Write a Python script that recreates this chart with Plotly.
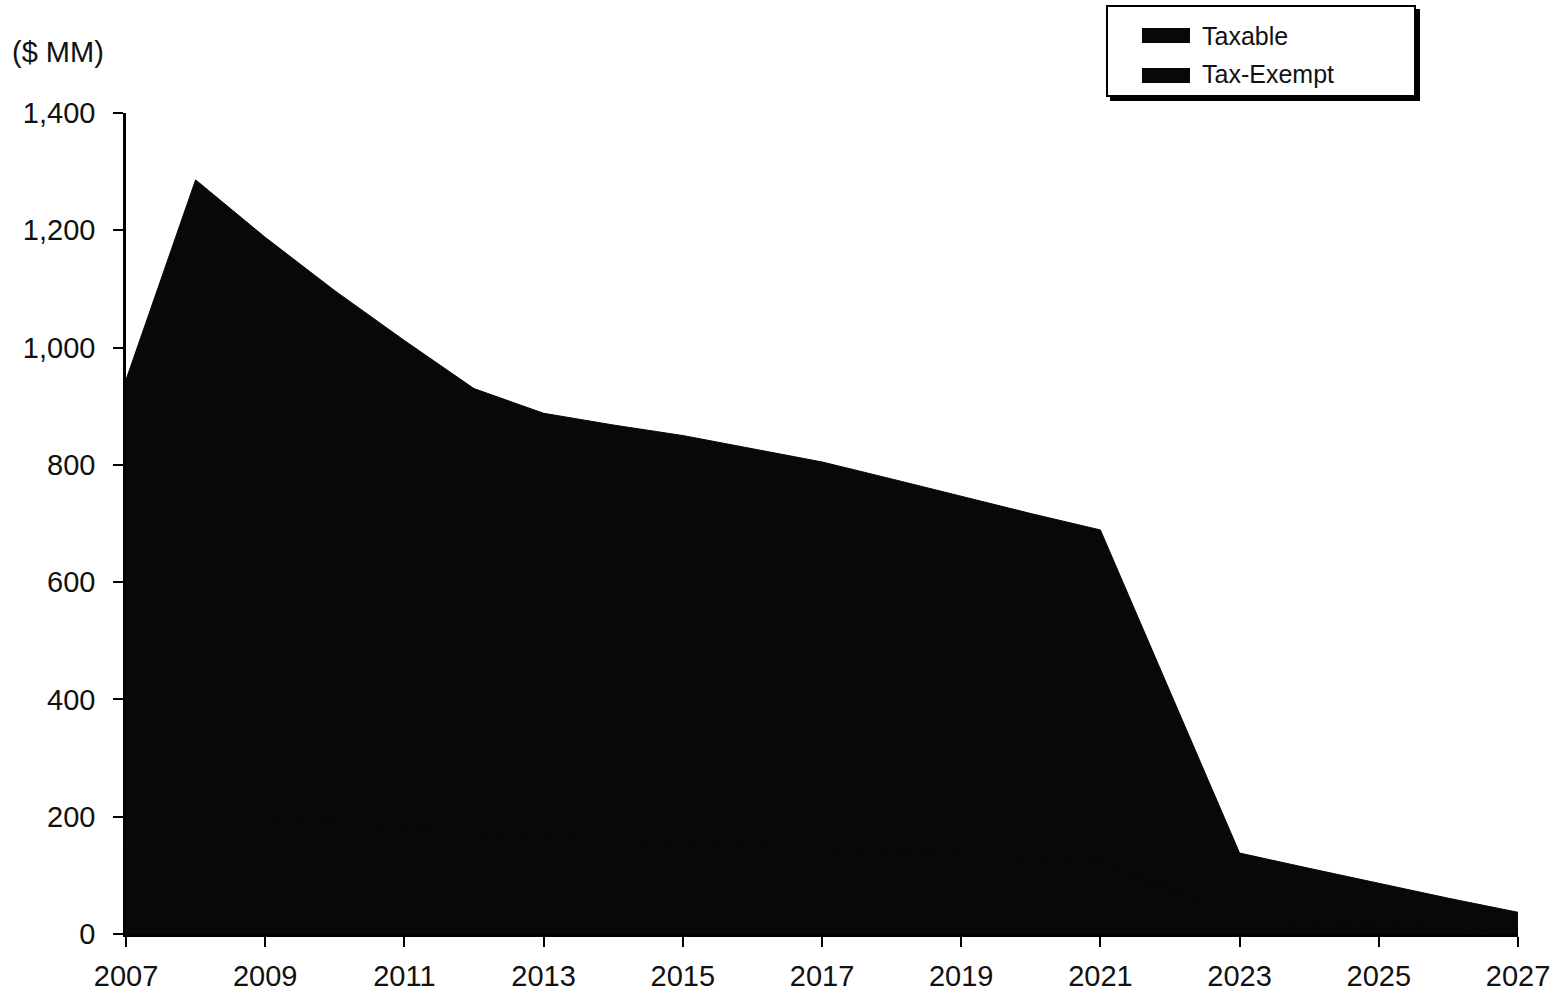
import plotly.graph_objects as go

years = list(range(2007, 2028))
tax_exempt = [160, 215, 200, 190, 180, 170, 165, 160, 155, 150, 145,
              140, 135, 130, 125, 75, 25, 20, 15, 11, 7]
taxable = [785, 1071, 988, 907, 832, 760, 723, 708, 695, 678, 660,
           636, 611, 587, 564, 338, 113, 92, 71, 50, 30]
series_names = ["Taxable", "Tax-Exempt"]
x_ticks = list(range(2007, 2028, 2))
y_ticks = [0, 200, 400, 600, 800, 1000, 1200, 1400]

FONT = "Liberation Sans, Arial, sans-serif"
INK = "#111111"
FILL = "#080808"

W, H = 1561, 994
ML, MR, MT, MB = 126, 43, 113, 60
PW, PH = W - ML - MR, H - MT - MB


def px(x):
    return (x - ML) / PW


def py(y):
    return (H - MB - y) / PH


fig = go.Figure()
fig.add_trace(go.Scatter(
    x=years, y=tax_exempt, name=series_names[1], stackgroup="one",
    mode="lines", line=dict(width=1.5, color=FILL),
    fillcolor=FILL, showlegend=False))
fig.add_trace(go.Scatter(
    x=years, y=taxable, name=series_names[0], stackgroup="one",
    mode="lines", line=dict(width=1, color=FILL),
    fillcolor=FILL, showlegend=False))

shapes = [
    # legend shadow
    dict(type="rect", xref="paper", yref="paper",
         x0=px(1110), x1=px(1420), y0=py(101), y1=py(9),
         fillcolor="black", line=dict(width=0)),
    # legend box
    dict(type="rect", xref="paper", yref="paper",
         x0=px(1107), x1=px(1415), y0=py(96), y1=py(6),
         fillcolor="white", line=dict(width=2, color="black")),
    # swatches
    dict(type="rect", xref="paper", yref="paper",
         x0=px(1142), x1=px(1190), y0=py(43), y1=py(28),
         fillcolor=FILL, line=dict(width=0)),
    dict(type="rect", xref="paper", yref="paper",
         x0=px(1142), x1=px(1190), y0=py(83), y1=py(68),
         fillcolor=FILL, line=dict(width=0)),
]

annotations = [
    dict(text="($ MM)", xref="paper", yref="paper",
         x=px(10), y=py(52), xanchor="left", yanchor="middle",
         showarrow=False, font=dict(size=29, family=FONT, color=INK)),
    dict(text=series_names[0], xref="paper", yref="paper",
         x=px(1200), y=py(36), xanchor="left", yanchor="middle",
         showarrow=False, font=dict(size=25, family=FONT, color=INK)),
    dict(text=series_names[1], xref="paper", yref="paper",
         x=px(1200), y=py(74), xanchor="left", yanchor="middle",
         showarrow=False, font=dict(size=25, family=FONT, color=INK)),
]

fig.update_layout(
    width=W, height=H,
    margin=dict(l=ML, r=MR, t=MT, b=MB, autoexpand=False),
    paper_bgcolor="white", plot_bgcolor="white",
    font=dict(family=FONT, color=INK, size=26),
    showlegend=False,
    xaxis=dict(
        range=[2007, 2027], tickvals=x_ticks, ticktext=[str(v) for v in x_ticks],
        showgrid=False, zeroline=False, showline=True, linecolor="black",
        linewidth=2.5, ticks="outside", ticklen=10, tickwidth=2,
        tickcolor="black", tickfont=dict(size=29, family=FONT, color=INK),
        ticklabelstandoff=4,
    ),
    yaxis=dict(
        range=[0, 1400], tickvals=y_ticks, tickformat=",",
        showgrid=False, zeroline=False, showline=True, linecolor="black",
        linewidth=2.5, ticks="outside", ticklen=10, tickwidth=2,
        tickcolor="black", tickfont=dict(size=29, family=FONT, color=INK),
        ticklabelstandoff=12,
    ),
    shapes=shapes,
    annotations=annotations,
)

fig.write_html("out.html")
